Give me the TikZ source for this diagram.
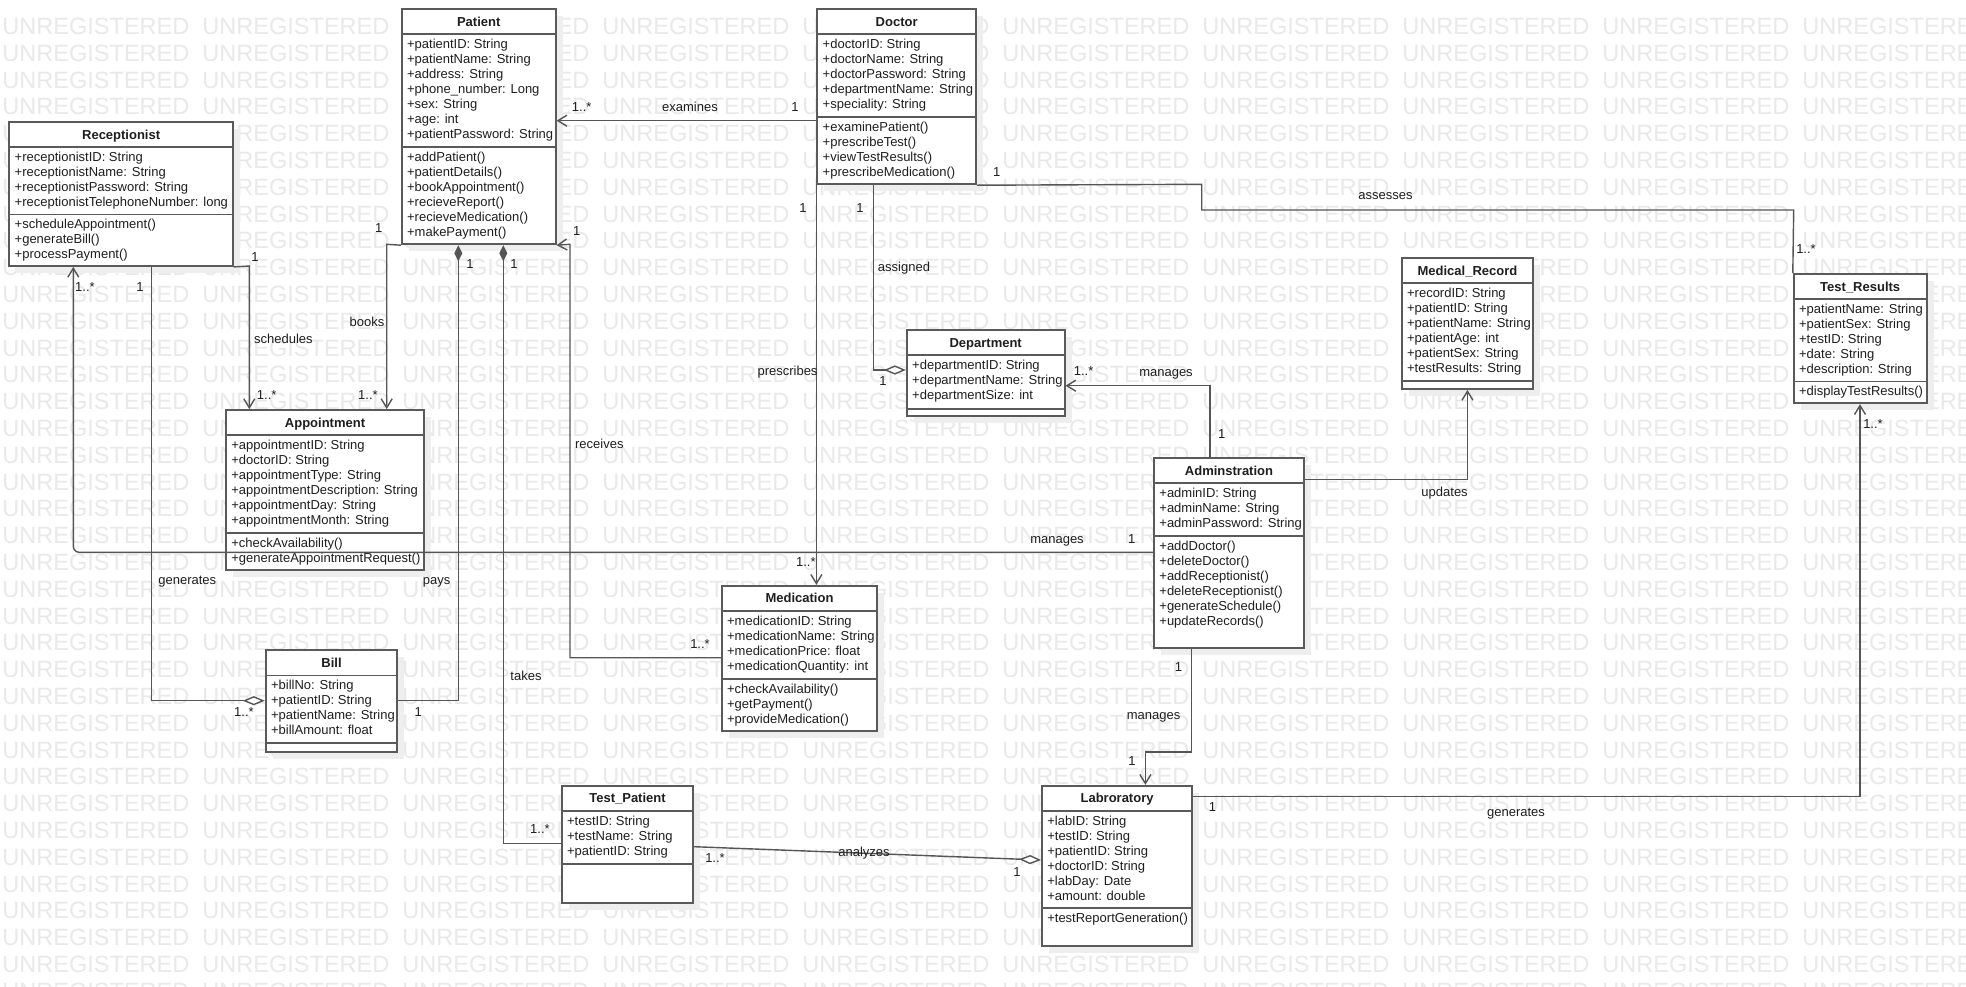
\documentclass[tikz,border=0pt]{standalone}
\usepackage{fontspec}
\setmainfont{Liberation Sans}
\usetikzlibrary{arrows.meta,fit,calc}
\definecolor{wmc}{HTML}{E9E9E9}
\definecolor{shc}{HTML}{EEEEEE}
\definecolor{boxc}{HTML}{5A5A5A}
\definecolor{linec}{HTML}{555555}
\definecolor{txtc}{HTML}{1E1E1E}
\tikzset{
  wm/.style={anchor=base west, inner sep=0pt, font=\fontsize{11.77}{12}\selectfont, text=wmc},
  boxst/.style={draw=boxc, fill=white, line width=0.9pt, inner sep=0pt},
  sepst/.style={draw=boxc, line width=0.9pt},
  titlest/.style={anchor=base, inner sep=0pt, font=\fontsize{6.5}{7.5}\selectfont\bfseries, text=txtc},
  attrst/.style={anchor=base west, inner sep=0pt, font=\fontsize{6.5}{7.5}\selectfont, text=txtc},
  lbl/.style={inner sep=0pt, text height=4.7pt, text depth=1.3pt, font=\fontsize{6.5}{7.5}\selectfont, text=txtc},
  conn/.style={draw=linec, line width=0.7pt},
  oarr/.style={-{Straight Barb[length=4.5pt,width=5.5pt]}},
  fdia/.style={{Diamond[length=8pt,width=4pt]}-},
  hdia/.style={-{Diamond[length=11pt,width=4.6pt,fill=white]}}
}
\newcommand\umlbox[6]{%
  \fill[shc] ({#2+7},{#3+7}) rectangle ({#4+7},{#5+7});
  \node[boxst, fit={(#2,#3) (#4,#5)}] (#1) {};
  \node[titlest] (#1-t) at ({(#2+#4)/2},{#3+17.1}) {#6};
}
\newcommand\umlsep[2]{\draw[sepst] (#1.west |- 0,#2) -- (#1.east |- 0,#2);}
\newcommand\umllines[4]{%
  \foreach \lntxt [count=\lni] in {#4} {%
    \node[attrst] (#1\lni) at ({#2+5},{#3+14.4+15*(\lni-1)}) {\lntxt};
  }%
}
\begin{document}
\begin{tikzpicture}[x=0.5pt,y=-0.5pt]
\useasboundingbox[fill=white] (0,0) rectangle (1966,986);
\begin{scope}
\clip (0,0) rectangle (1966,986);
\foreach \r in {0,...,36} {
  \foreach \c in {0,...,9} {
    \node[wm] (wm-\r-\c) at ({2+200*\c},{26+26.8*\r+8.5}) {UNREGISTERED};
  }
}
\end{scope}

% ---------------- classes ----------------
\umlbox{recep}{9.3}{122}{233}{266}{Receptionist}
\umlsep{recep}{147}\umlsep{recep}{214.5}
\umllines{recep-a}{9.3}{147}{+receptionistID: String,+receptionistName: String,+receptionistPassword: String,+receptionistTelephoneNumber: long}
\umllines{recep-m}{9.3}{214.5}{+scheduleAppointment(),+generateBill(),+processPayment()}

\umlbox{patient}{401.7}{9.3}{555.7}{244.3}{Patient}
\umlsep{patient}{34.3}\umlsep{patient}{146.8}
\umllines{patient-a}{401.7}{34.3}{+patientID: String,+patientName: String,+address: String,+phone\_number: Long,+sex: String,+age: int,+patientPassword: String}
\umllines{patient-m}{401.7}{146.8}{+addPatient(),+patientDetails(),+bookAppointment(),+recieveReport(),+recieveMedication(),+makePayment()}

\umlbox{doctor}{817.3}{9.3}{976}{184.3}{Doctor}
\umlsep{doctor}{34.3}\umlsep{doctor}{116.8}
\umllines{doctor-a}{817.3}{34.3}{+doctorID: String,+doctorName: String,+doctorPassword: String,+departmentName: String,+speciality: String}
\umllines{doctor-m}{817.3}{116.8}{+examinePatient(),+prescribeTest(),+viewTestResults(),+prescribeMedication()}

\umlbox{dept}{906.8}{330}{1064.6}{416}{Department}
\umlsep{dept}{355}\umlsep{dept}{409}
\umllines{dept-a}{906.8}{355}{+departmentID: String,+departmentName: String,+departmentSize: int}

\umlbox{medrec}{1401.7}{258.3}{1533.2}{389}{Medical\_Record}
\umlsep{medrec}{283}\umlsep{medrec}{380.7}
\umllines{medrec-a}{1401.7}{283}{+recordID: String,+patientID: String,+patientName: String,+patientAge: int,+patientSex: String,+testResults: String}

\umlbox{testres}{1793.7}{274}{1926.7}{403.3}{Test\_Results}
\umlsep{testres}{298.7}\umlsep{testres}{381.5}
\umllines{testres-a}{1793.7}{298.7}{+patientName: String,+patientSex: String,+testID: String,+date: String,+description: String}
\umllines{testres-m}{1793.7}{381.5}{+displayTestResults()}

\umlbox{appt}{226}{410}{424}{570}{Appointment}
\umlsep{appt}{434.7}\umlsep{appt}{532.7}
\umllines{appt-a}{226}{434.7}{+appointmentID: String,+doctorID: String,+appointmentType: String,+appointmentDescription: String,+appointmentDay: String,+appointmentMonth: String}
\umllines{appt-m}{226}{532.7}{+checkAvailability(),+generateAppointmentRequest()}

\umlbox{admin}{1154}{458.3}{1304}{648.3}{Adminstration}
\umlsep{admin}{483}\umlsep{admin}{536}
\umllines{admin-a}{1154}{483}{+adminID: String,+adminName: String,+adminPassword: String}
\umllines{admin-m}{1154}{536}{+addDoctor(),+deleteDoctor(),+addReceptionist(),+deleteReceptionist(),+generateSchedule(),+updateRecords()}

\umlbox{medic}{721.7}{585.7}{877.3}{731}{Medication}
\umlsep{medic}{610.8}\umlsep{medic}{679}
\umllines{medic-a}{721.7}{610.8}{+medicationID: String,+medicationName: String,+medicationPrice: float,+medicationQuantity: int}
\umllines{medic-m}{721.7}{679}{+checkAvailability(),+getPayment(),+provideMedication()}

\umlbox{bill}{265.7}{650}{397.3}{751.7}{Bill}
\umlsep{bill}{675.5}\umlsep{bill}{742.7}
\umllines{bill-a}{265.7}{675.5}{+billNo: String,+patientID: String,+patientName: String,+billAmount: float}

\umlbox{testpat}{561.7}{785.7}{693.3}{902.7}{Test\_Patient}
\umlsep{testpat}{811}\umlsep{testpat}{863.7}
\umllines{testpat-a}{561.7}{811}{+testID: String,+testName: String,+patientID: String}

\umlbox{lab}{1041.9}{785.7}{1192.2}{945.7}{Labroratory}
\umlsep{lab}{811}\umlsep{lab}{908.3}
\umllines{lab-a}{1041.9}{811}{+labID: String,+testID: String,+patientID: String,+doctorID: String,+labDay: Date,+amount: double}
\umllines{lab-m}{1041.9}{908.3}{+testReportGeneration()}

% ---------------- connectors ----------------
% examines
\draw[conn,oarr] (doctor.west |- 0,120.7) -- (patient.east |- 0,120.7);
\node[lbl] (exa-m) at (581.7,108.3) {1..*};
\node[lbl] (exa-l) at (690,108.3) {examines};
\node[lbl] (exa-n) at (795,108.3) {1};
% receives
\draw[conn,oarr] (medic.west |- 0,657.7) -- (570,657.7) -- (570,244.3) -- (patient.south east);
\node[lbl] (rec-n) at (576.7,231.7) {1};
\node[lbl] (rec-l) at (599.3,445) {receives};
\node[lbl] (rec-m) at (700,645) {1..*};
% prescribes
\draw[conn,oarr] (doctor.south west) -- (doctor.south west |- medic.north);
\node[lbl] (pre-n) at (803,209) {1};
\node[lbl] (pre-l) at (787.5,372.4) {prescribes};
\node[lbl] (pre-m) at (805.8,563) {1..*};
% assigned
\draw[conn,hdia] (doctor.south -| 873.3,0) -- (873.3,370) -- (dept.west |- 0,370);
\node[lbl] (asg-n) at (860,209) {1};
\node[lbl] (asg-l) at (904,268) {assigned};
\node[lbl] (asg-m) at (883,381.7) {1};
% assesses
\draw[conn] (doctor.south east) -- (1201.7,184.3) -- (1201.7,210) -- (1793.7,210) -- (testres.north west);
\node[lbl] (ass-n) at (996.7,173.3) {1};
\node[lbl] (ass-l) at (1385.5,196) {assesses};
\node[lbl] (ass-m) at (1806,250) {1..*};
% manages department
\draw[conn,oarr] (admin.north -| 1210,0) -- (1210,385.7) -- (dept.east |- 0,385.7);
\node[lbl] (md-m) at (1083.6,371.7) {1..*};
\node[lbl] (md-l) at (1166,372.7) {manages};
\node[lbl] (md-n) at (1221.8,435) {1};
% updates
\draw[conn,oarr] (admin.east |- 0,479.3) -- (medrec.south |- 0,479.3) -- (medrec.south);
\node[lbl] (upd-l) at (1444.6,492.8) {updates};
% manages receptionist
\draw[conn,oarr,rounded corners=3pt] (admin.west |- 0,552.3) -- (73.3,552.3) -- (recep.south -| 73.3,0);
\node[lbl] (mr-m) at (85,288) {1..*};
\node[lbl] (mr-l) at (1057,540.4) {manages};
\node[lbl] (mr-n) at (1131.7,540) {1};
% manages laboratory
\draw[conn,oarr] (admin.south -| 1191.7,0) -- (1191.7,752) -- (1145.4,752) -- (lab.north -| 1145.4,0);
\node[lbl] (ml-n) at (1178.6,668) {1};
\node[lbl] (ml-l) at (1153.6,716) {manages};
\node[lbl] (ml-m) at (1132,762) {1};
% generates test results
\draw[conn,oarr] (lab.east |- 0,796.7) -- (1860,796.7) -- (testres.south -| 1860,0);
\node[lbl] (gt-n) at (1212.6,808.3) {1};
\node[lbl] (gt-l) at (1516,813.3) {generates};
\node[lbl] (gt-m) at (1873,425) {1..*};
% analyzes
\draw[conn,hdia] (testpat.east |- 0,846.7) -- (lab.west |- 0,860);
\node[lbl] (an-m) at (715,859.3) {1..*};
\node[lbl] (an-l) at (864,852.7) {analyzes};
\node[lbl] (an-n) at (1017,873.3) {1};
% takes
\draw[conn,fdia] (patient.south -| 503.3,0) -- (503.3,843.3) -- (testpat.west |- 0,843.3);
\node[lbl] (tk-n) at (514,264.6) {1};
\node[lbl] (tk-l) at (526,676.7) {takes};
\node[lbl] (tk-m) at (540,830) {1..*};
% pays
\draw[conn,fdia] (patient.south -| 458.3,0) -- (458.3,700.7) -- (bill.east |- 0,700.7);
\node[lbl] (py-n) at (470,264.6) {1};
\node[lbl] (py-l) at (436.7,580.7) {pays};
\node[lbl] (py-m) at (418.3,712.7) {1};
% books
\draw[conn,oarr] (patient.south west) -- (386.7,244.3) -- (appt.north -| 386.7,0);
\node[lbl] (bk-n) at (378.7,229.5) {1};
\node[lbl] (bk-l) at (367,323.5) {books};
\node[lbl] (bk-m) at (368,396) {1..*};
% schedules
\draw[conn,oarr] (recep.south east) -- (249.3,266) -- (appt.north -| 249.3,0);
\node[lbl] (sc-n) at (255,258) {1};
\node[lbl] (sc-l) at (283.4,339.8) {schedules};
\node[lbl] (sc-m) at (266.7,396) {1..*};
% generates bill
\draw[conn,hdia] (recep.south -| 151.7,0) -- (151.7,700.7) -- (bill.west |- 0,700.7);
\node[lbl] (gb-n) at (140,288) {1};
\node[lbl] (gb-l) at (187.3,580.7) {generates};
\node[lbl] (gb-m) at (244,712.7) {1..*};
\end{tikzpicture}
\end{document}
